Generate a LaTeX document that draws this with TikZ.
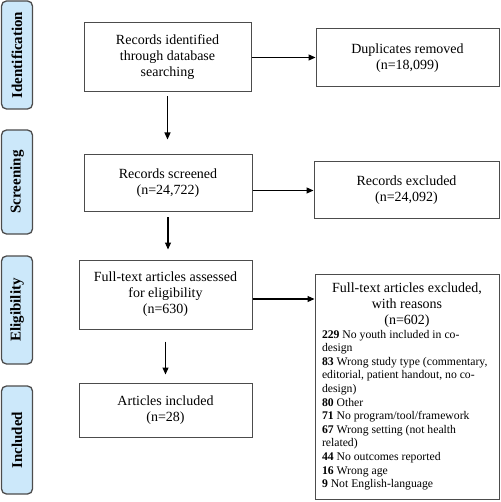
\documentclass[tikz,border=0pt]{standalone}
\usepackage{fontspec}
\setmainfont{Liberation Serif}
\usetikzlibrary{arrows.meta}
\definecolor{stagefill}{RGB}{204,232,250}

\begin{document}
\begin{tikzpicture}[x=1pt,y=-1pt,
  stage/.style={draw=black!70,line width=1.3pt,rounded corners=5pt,fill=stagefill,
    rotate=90,minimum height=31pt,inner sep=0pt,font=\bfseries\fontsize{15}{17}\selectfont},
  box/.style={draw=black!70,line width=1pt,align=center,inner sep=0pt,
    font=\fontsize{14}{16}\selectfont},
  arr/.style={-{Triangle[length=7pt,width=6pt]},line width=1.1pt}]
\useasboundingbox (0,0) rectangle (500,502);

% Stage labels
\node[stage,minimum width=108pt] (ident) at (17,55) {Identification};
\node[stage,minimum width=104pt] (screen) at (17,182) {Screening};
\node[stage,minimum width=108pt] (elig) at (17,310) {Eligibility};
\node[stage,minimum width=108pt] (incl) at (17,440) {Included};

% Main flow
\node[box,minimum width=167pt,minimum height=69pt] (recid) at (167.5,57.5)
  {Records identified\\through database\\searching};
\node[box,minimum width=168pt,minimum height=57pt] (recscr) at (168,183.5)
  {Records screened\\(n=24,722)};
\node[box,minimum width=173pt,minimum height=69pt] (ftass) at (165.5,294.5)
  {Full-text articles assessed\\for eligibility\\(n=630)};
\node[box,minimum width=173pt,minimum height=54pt] (artincl) at (165.5,410)
  {Articles included\\(n=28)};

% Exclusions
\node[box,minimum width=183pt,minimum height=58pt] (dup) at (407.5,58)
  {Duplicates removed\\(n=18,099)};
\node[box,minimum width=185pt,minimum height=57pt] (recexc) at (406.5,190.5)
  {Records excluded\\(n=24,092)};
\node[box,minimum width=184pt,minimum height=225pt] (ftexc) at (407,386.5) {%
  \parbox{170pt}{%
  {\centering Full-text articles excluded,\\with reasons\\(n=602)\par}
  {\raggedright\fontsize{11.7}{13.6}\selectfont
  \textbf{229} No youth included in co-\\
  design\\
  \textbf{83} Wrong study type (commentary,\\
  editorial, patient handout, no co-\\
  design)\\
  \textbf{80} Other\\
  \textbf{71} No program/tool/framework\\
  \textbf{67} Wrong setting (not health\\
  related)\\
  \textbf{44} No outcomes reported\\
  \textbf{16} Wrong age\\
  \textbf{9} Not English-language\par}}};

% Arrows
\draw[arr,shorten <=4pt,shorten >=15pt] (recid.south) -- (recid.south |- recscr.north);
\draw[arr,shorten <=5pt,shorten >=10pt] (recscr.south) -- (recscr.south |- ftass.north);
\draw[arr,shorten <=12pt,shorten >=8pt] (ftass.south) -- (ftass.south |- artincl.north);
\draw[arr] (recid.east) -- (recid.east -| dup.west);
\draw[arr] (recscr.east |- recexc.west) -- (recexc.west);
\draw[arr] ([yshift=-4.5pt]ftass.east) -- ([yshift=-4.5pt]ftass.east -| ftexc.west);
\end{tikzpicture}
\end{document}
